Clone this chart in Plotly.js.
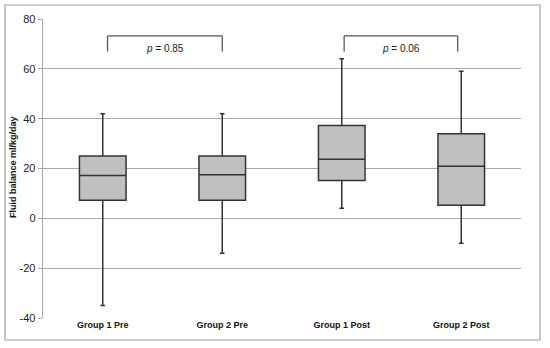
<!DOCTYPE html>
<html>
<head>
<meta charset="utf-8">
<script src="https://cdn.plot.ly/plotly-3.0.1.min.js"></script>
<style>html,body{margin:0;padding:0;background:#fff;}#chart{width:550px;height:348px;}</style>
</head>
<body>
<div id="chart"></div>
<script>
// Data
const categories = ["Group 1 Pre", "Group 2 Pre", "Group 1 Post", "Group 2 Post"];
const lowerWhisker = [-35, -14, 4, -10];
const q1Values = [7.3, 7.3, 15.2, 5.3];
const medianValues = [17.2, 17.5, 23.7, 20.9];
const q3Values = [25, 25, 37.3, 33.9];
const upperWhisker = [42, 42, 64, 59];
const yTicks = [-40, -20, 0, 20, 40, 60, 80];
const yTickText = ["-40", "-20", "0", "20", "40", "60", "80"];
const yTitle = "Fluid balance ml/kg/day";
const comparisons = [
  {from: 0.04, to: 1.0, label: "<i>p</i> = 0.85"},
  {from: 2.02, to: 2.97, label: "<i>p</i> = 0.06"}
];
const bracketTop = 73.2;
const bracketBottom = 67;

const trace = {
  type: "box",
  x: categories,
  q1: q1Values,
  median: medianValues,
  q3: q3Values,
  lowerfence: lowerWhisker,
  upperfence: upperWhisker,
  width: 0.39,
  whiskerwidth: 0.1,
  fillcolor: "#c0c0c0",
  line: {color: "#333333", width: 1.5},
  boxpoints: false,
  hoverinfo: "skip",
  showlegend: false
};

const shapes = [];
const annotations = [];
comparisons.forEach(c => {
  const ln = {color: "#555555", width: 1.3};
  shapes.push({type: "line", xref: "x", yref: "y", x0: c.from, x1: c.from, y0: bracketBottom, y1: bracketTop, line: ln});
  shapes.push({type: "line", xref: "x", yref: "y", x0: c.to, x1: c.to, y0: bracketBottom, y1: bracketTop, line: ln});
  shapes.push({type: "line", xref: "x", yref: "y", x0: c.from, x1: c.to, y0: bracketTop, y1: bracketTop, line: ln});
  annotations.push({xref: "x", yref: "y", x: (c.from + c.to) / 2, y: 68, text: c.label, showarrow: false,
    font: {family: "Liberation Sans, Arial, sans-serif", size: 10, color: "#222"}});
});
// y-axis title placed as rotated annotation
annotations.push({xref: "paper", yref: "paper", x: (13 - 43) / 478, y: (318 - 167) / 299,
  xanchor: "center", yanchor: "middle", textangle: -90, text: yTitle, showarrow: false,
  font: {family: "Liberation Sans, Arial, sans-serif", size: 9, color: "#111", weight: "bold"}});
// outer border
shapes.push({type: "rect", xref: "paper", yref: "paper",
  x0: (5 - 43) / 478, x1: (540 - 43) / 478, y0: (318 - 340) / 299, y1: (318 - 5) / 299,
  line: {color: "#a0a0a0", width: 1.2}, fillcolor: "rgba(0,0,0,0)", layer: "below"});

const layout = {
  width: 550, height: 348,
  margin: {l: 43, r: 29, t: 19, b: 30},
  paper_bgcolor: "#fff", plot_bgcolor: "#fff",
  font: {family: "Liberation Sans, Arial, sans-serif", color: "#222"},
  xaxis: {
    type: "category",
    categoryorder: "array", categoryarray: categories,
    range: [-0.5, 3.5],
    showgrid: false, showline: false, zeroline: false, ticks: "",
    tickfont: {size: 9, color: "#111", weight: "bold"},
    fixedrange: true
  },
  yaxis: {
    range: [-40, 80],
    tickmode: "array", tickvals: yTicks, ticktext: yTickText,
    showgrid: true, gridcolor: "#a8a8a8", gridwidth: 1.3,
    zeroline: false,
    showline: true, linecolor: "#a8a8a8", linewidth: 1.3,
    ticks: "outside", ticklen: 4, tickcolor: "#a8a8a8",
    tickfont: {size: 11, color: "#222"},
    fixedrange: true
  },
  shapes: shapes,
  annotations: annotations
};

Plotly.newPlot("chart", [trace], layout, {displayModeBar: false, staticPlot: true});
</script>
</body>
</html>
